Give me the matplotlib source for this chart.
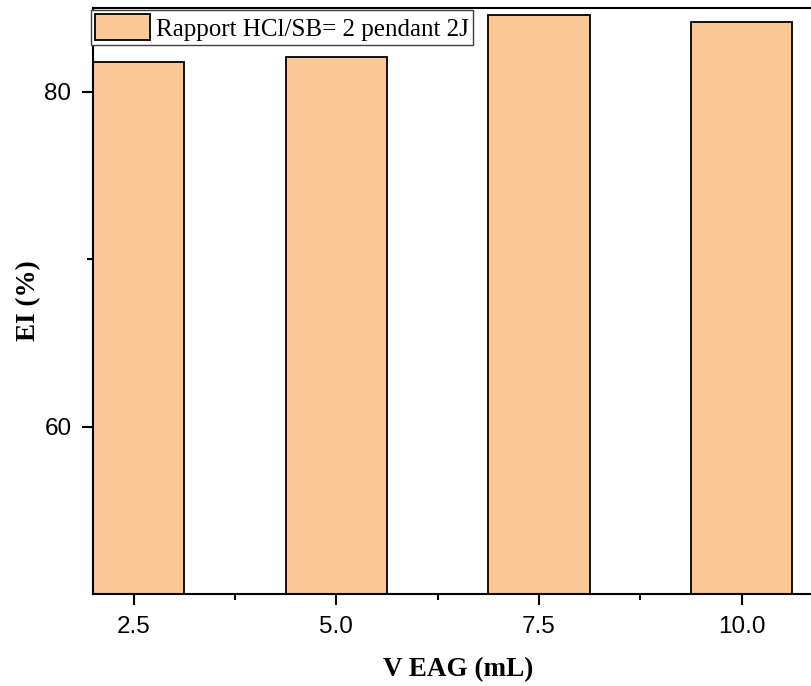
import matplotlib
matplotlib.use("Agg")
from matplotlib import pyplot as plt
from matplotlib import ticker

# data
volumes = [2.5, 5.0, 7.5, 10.0]
ei_values = [81.75, 82.1, 84.58, 84.14]
legend_label = "Rapport HCl/SB= 2 pendant 2J"

BAR_COLOR = "#FBC896"
W, H, DPI = 811, 686, 100

fig = plt.figure(figsize=(W / DPI, H / DPI), dpi=DPI)

# axes placed in pixels: left spine x=93, bottom y=594, top y=8, x=11 lies past the right edge
left, right, top, bottom = 93, 822.8, 8, 594
ax = fig.add_axes([left / W, (H - bottom) / H, (right - left) / W, (bottom - top) / H])

ax.bar(volumes, ei_values, width=1.25, color=BAR_COLOR, edgecolor="black",
       linewidth=1.3, label=legend_label)

ax.set_xlim(2.0, 11.0)
ax.set_ylim(50, 85)

ax.xaxis.set_major_locator(ticker.FixedLocator(volumes))
ax.xaxis.set_minor_locator(ticker.FixedLocator([3.75, 6.25, 8.75]))
ax.xaxis.set_major_formatter(ticker.FormatStrFormatter("%.1f"))
ax.yaxis.set_major_locator(ticker.FixedLocator([60, 80]))
ax.yaxis.set_minor_locator(ticker.FixedLocator([70]))

ax.spines["right"].set_visible(False)
for s in ("left", "bottom", "top"):
    ax.spines[s].set_linewidth(1.5)

ax.tick_params(which="major", direction="out", length=8, width=1.5,
               labelsize=17.5, pad=7.5)
ax.tick_params(which="minor", direction="out", length=4, width=1.5)
for lab in ax.get_xticklabels() + ax.get_yticklabels():
    lab.set_family("Liberation Sans")

ax.set_xlabel("V EAG (mL)", family="Liberation Serif", fontweight="bold",
              fontsize=19.5, labelpad=14)
ax.set_ylabel("EI (%)", family="Liberation Serif", fontweight="bold",
              fontsize=19.5, labelpad=2)

leg = ax.legend(loc="upper left", bbox_to_anchor=(-0.003, 0.997), fancybox=False,
                prop={"family": "Liberation Serif", "size": 18},
                handlelength=2.2, handleheight=1.25, handletextpad=0.22,
                borderpad=0.17, borderaxespad=0.0, framealpha=1)
leg.get_frame().set_edgecolor("#404040")
leg.get_frame().set_linewidth(1.0)

fig.savefig("out.png", dpi=DPI)
